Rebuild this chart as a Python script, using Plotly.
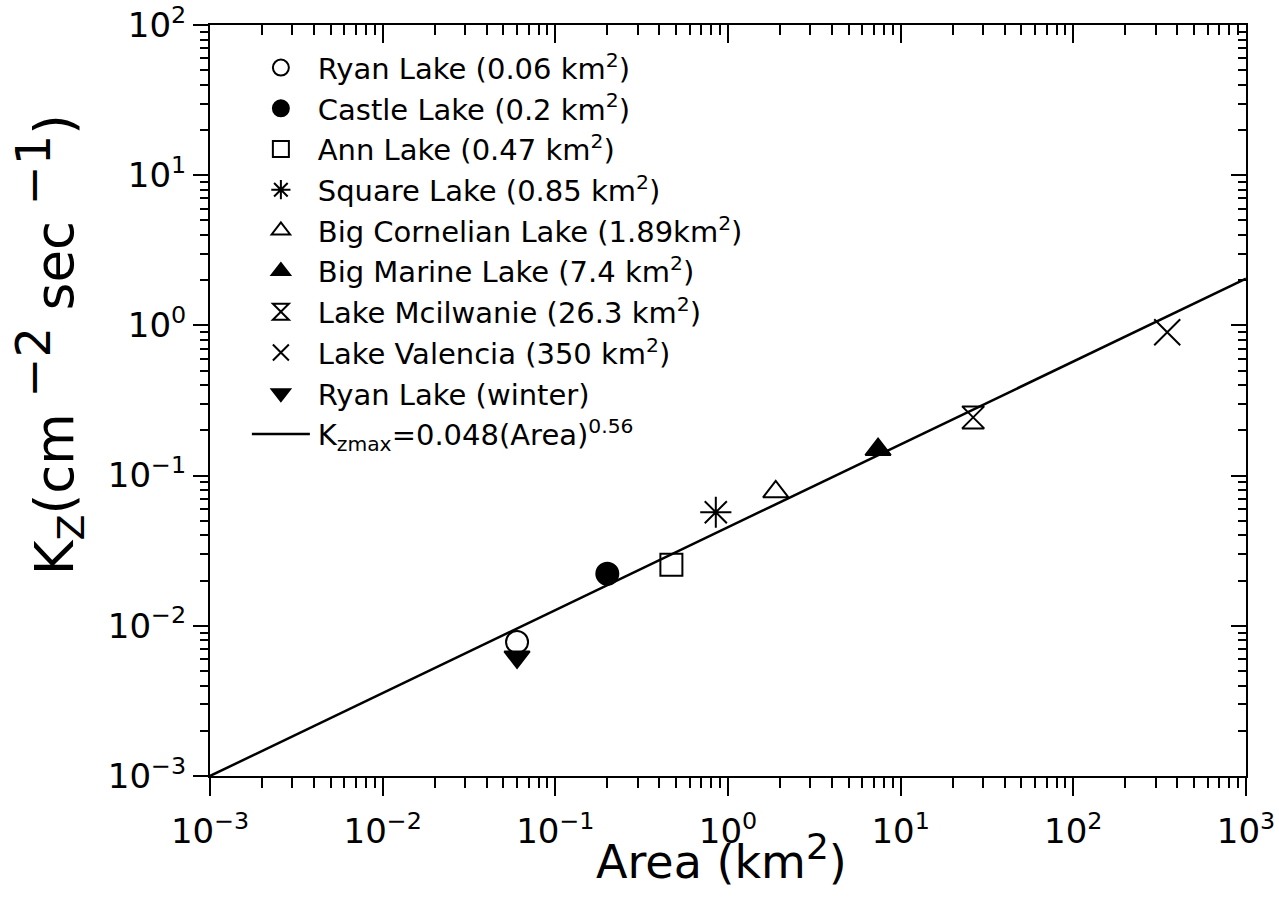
import plotly.graph_objects as go

# ---- data ----
lakes = ["Ryan Lake (0.06 km<sup>2</sup>)", "Castle Lake (0.2 km<sup>2</sup>)",
         "Ann Lake (0.47 km<sup>2</sup>)", "Square Lake (0.85 km<sup>2</sup>)",
         "Big Cornelian Lake (1.89km<sup>2</sup>)", "Big Marine Lake (7.4 km<sup>2</sup>)",
         "Lake Mcilwanie (26.3 km<sup>2</sup>)", "Lake Valencia (350 km<sup>2</sup>)",
         "Ryan Lake (winter)"]
area = [0.06, 0.2, 0.47, 0.85, 1.89, 7.4, 26.3, 350, 0.06]
kz = [0.0078, 0.0222, 0.0255, 0.057, 0.078, 0.149, 0.244, 0.90, 0.0062]
symbols = ["circle-open", "circle", "square-open", "asterisk-open", "triangle-up-open",
           "triangle-up", "hourglass-open", "x-thin-open", "triangle-down"]
sizes = [22, 22, 22, 26, 22, 22, 22, 26, 22]

fit_label = "K<sub>zmax</sub>=0.048(Area)<sup>0.56</sup>"
fit_x = [1e-3, 1e3]
fit_y = [1e-3, 2.05]

tick_vals = [1e-3, 1e-2, 1e-1, 1e0, 1e1, 1e2, 1e3]
tick_text = ["10<sup>−3</sup>", "10<sup>−2</sup>", "10<sup>−1</sup>", "10<sup>0</sup>",
             "10<sup>1</sup>", "10<sup>2</sup>", "10<sup>3</sup>"]
ytick_vals = [1e-3, 1e-2, 1e-1, 1e0, 1e1, 1e2]
ytick_text = ["10<sup>−3</sup>", "10<sup>−2</sup>", "10<sup>−1</sup>", "10<sup>0</sup>",
              "10<sup>1</sup>", "10<sup>2</sup>"]

FONT = "DejaVu Sans"
PAD = "\u200a"
fig = go.Figure()

for i, (name, a, k, s, sz) in enumerate(zip(lakes, area, kz, symbols, sizes)):
    fig.add_trace(go.Scatter(
        x=[a], y=[k], mode="markers", name=PAD + name, legendgroup=f"g{i}",
        marker=dict(symbol=s, size=sz, color="black",
                    line=dict(color="black", width=2)),
        cliponaxis=False))

fig.add_trace(go.Scatter(x=fit_x, y=fit_y, mode="lines", name=PAD + fit_label,
                         legendgroup="gfit", line=dict(color="black", width=2.5)))

# dummy trace to carry top/right mirror axes
fig.add_trace(go.Scatter(x=fit_x, y=fit_y, mode="lines", xaxis="x2", yaxis="y2",
                         showlegend=False, line=dict(width=0), hoverinfo="skip"))

axis_common = dict(type="log", showgrid=False, zeroline=False, showline=True,
                   linecolor="black", linewidth=2, color="black", automargin=False)
XR = [-3.0003, 3.0003]
YR = [-3.0003, 2.0003]

fig.update_layout(
    width=1279, height=912,
    margin=dict(l=210, r=33, t=25, b=136, autoexpand=False),
    paper_bgcolor="white", plot_bgcolor="white",
    font=dict(family=FONT, color="black"),
    xaxis=dict(**axis_common, range=XR, tickmode="array", tickvals=tick_vals,
               ticktext=tick_text, ticks="outside", ticklen=18, tickwidth=2,
               ticklabelstandoff=6,
               tickfont=dict(size=34, family=FONT),
               minor=dict(ticks="outside", ticklen=10, tickwidth=2, dtick="D1",
                          tickcolor="black")),
    yaxis=dict(**axis_common, range=YR, tickmode="array", tickvals=ytick_vals,
               ticktext=ytick_text, ticks="outside", ticklen=15, tickwidth=2,
               tickfont=dict(size=34, family=FONT),
               minor=dict(ticks="outside", ticklen=8, tickwidth=2, dtick="D1",
                          tickcolor="black")),
    xaxis2=dict(**axis_common, range=XR, overlaying="x", side="top",
                anchor="y2", ticks="inside", ticklen=18, tickwidth=2,
                tickvals=tick_vals, showticklabels=False,
                minor=dict(ticks="inside", ticklen=10, tickwidth=2, dtick="D1",
                           tickcolor="black")),
    yaxis2=dict(**axis_common, range=YR, overlaying="y", side="right",
                anchor="x2", ticks="inside", ticklen=15, tickwidth=2,
                tickvals=ytick_vals, showticklabels=False,
                minor=dict(ticks="inside", ticklen=8, tickwidth=2, dtick="D1",
                           tickcolor="black")),
    legend=dict(x=0.0356, y=0.977, xanchor="left", yanchor="top",
                bgcolor="rgba(0,0,0,0)", font=dict(size=29, family=FONT),
                traceorder="grouped", tracegroupgap=0, itemwidth=58),
    showlegend=True,
    annotations=[
        dict(text="Area (km<sup><span style='font-size:36px'>2</span></sup>)",
             xref="paper", yref="paper",
             x=0.494, y=-0.108, xanchor="center", yanchor="middle",
             showarrow=False, font=dict(size=46, family=FONT)),
        dict(text=("K<sub><span style='font-size:38px'>Z</span></sub>(cm"
                   "<sup><span style='font-size:48px'> −2</span></sup> sec"
                   "<sup><span style='font-size:48px'> −1</span></sup>)"),
             xref="paper", yref="paper", x=-0.155, y=0.574,
             xanchor="center", yanchor="middle",
             textangle=-90, showarrow=False, font=dict(size=53, family=FONT)),
    ],
)

fig.write_html("out.html")
